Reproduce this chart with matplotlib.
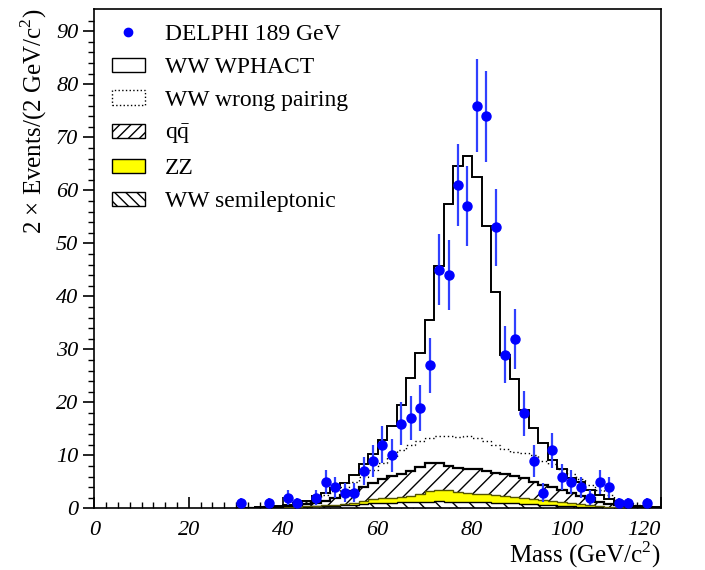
import numpy as np
import matplotlib
matplotlib.use("Agg")
import matplotlib.pyplot as plt
from matplotlib.patches import Patch
from matplotlib.lines import Line2D

plt.rcParams["font.family"] = ["Liberation Serif", "DejaVu Serif"]
plt.rcParams["mathtext.fontset"] = "custom"
plt.rcParams["mathtext.rm"] = "Liberation Serif"
plt.rcParams["hatch.linewidth"] = 1.0

# 2 GeV bins from 30 to 120
edges = np.arange(30, 122, 2)

# stacked tops of each simulated component
semilep = [0, 0, 0.05, 0.1, 0.15, 0.2, 0.25, 0.3, 0.4, 0.5, 0.55, 0.65, 0.75, 0.85, 0.95,
           1.0, 1.1, 1.15, 1.2, 1.25, 1.3, 1.35, 1.3, 1.3, 1.25, 1.2, 1.15, 1.1, 1.0, 0.95,
           0.85, 0.8, 0.7, 0.6, 0.5, 0.45, 0.35, 0.3, 0.2, 0.15, 0.1, 0.05, 0.05, 0, 0]
zz = [0, 0, 0.05, 0.1, 0.2, 0.25, 0.3, 0.4, 0.5, 0.6, 0.7, 0.8, 1.0, 1.4, 1.7,
      1.9, 2.0, 2.2, 2.4, 2.8, 3.3, 3.5, 3.4, 3.1, 3.0, 2.8, 2.7, 2.5, 2.4, 2.2,
      2.0, 1.8, 1.6, 1.5, 1.3, 1.1, 0.9, 0.7, 0.5, 0.35, 0.2, 0.1, 0.05, 0, 0]
qqbar = [0.05, 0.05, 0.1, 0.2, 0.3, 0.4, 0.6, 0.8, 1.1, 1.5, 2.0, 2.6, 3.3, 4.0, 4.8,
         5.5, 6.1, 6.6, 7.1, 7.8, 8.5, 8.6, 8.1, 7.7, 7.5, 7.4, 7.1, 6.7, 6.5, 6.1,
         5.7, 5.0, 4.4, 4.0, 3.5, 3.0, 2.4, 1.9, 1.3, 0.9, 0.6, 0.4, 0.3, 0.2, 0.1]
wrong_pair = [0.05, 0.1, 0.2, 0.3, 0.5, 0.7, 0.9, 1.2, 1.8, 2.5, 3.3, 4.0, 5.0, 6.0, 7.2,
              8.5, 9.8, 11.0, 12.0, 12.8, 13.3, 13.6, 13.7, 13.5, 13.6, 13.3, 12.8, 12.0, 11.3, 10.7,
              10.5, 10.0, 9.0, 8.3, 7.5, 6.5, 5.5, 4.5, 3.5, 2.5, 1.6, 1.0, 0.6, 0.3, 0.2]
wphact = [0.1, 0.1, 0.2, 0.3, 0.5, 0.7, 1.0, 1.5, 2.3, 3.0, 3.8, 4.8, 6.3, 8.3, 10.3,
          13.0, 15.5, 19.5, 24.6, 29.3, 35.5, 45.7, 57.4, 64.5, 66.4, 62.6, 53.2, 40.8, 28.9, 24.4,
          18.5, 15.2, 12.3, 9.1, 7.5, 5.8, 5.0, 3.5, 2.6, 1.7, 1.1, 0.7, 0.5, 0.3, 0.2]

# DELPHI data
data_x = [31, 37, 41, 43, 47, 49, 51, 53, 55, 57, 59, 61, 63, 65, 67, 69, 71, 73, 75, 77,
          79, 81, 83, 85, 87, 89, 91, 93, 95, 97, 99, 101, 103, 105, 107, 109, 111, 113, 117]
data_y = [1, 1, 2, 1, 2, 5, 4, 3, 3, 7, 9, 12, 10, 16, 17, 19, 27, 45, 44, 61,
          57, 76, 74, 53, 29, 32, 18, 9, 3, 11, 6, 5, 4, 2, 5, 4, 1, 1, 1]

fig = plt.figure(figsize=(7.05, 5.7), dpi=100)
ax = fig.add_axes([0.1338, 0.1079, 0.8038, 0.8763])

zeros = np.zeros(len(semilep))
ax.stairs(qqbar, edges, baseline=zz, fill=True, facecolor="white", edgecolor="black",
          hatch="//", linewidth=0, zorder=2)
ax.stairs(zz, edges, baseline=semilep, fill=True, facecolor="#ffff00", linewidth=0, zorder=2)
ax.stairs(semilep, edges, baseline=zeros, fill=True, facecolor="white", edgecolor="black",
          hatch="\\\\", linewidth=0, zorder=2)
ax.stairs(semilep, edges, color="black", linewidth=1.0, zorder=3)
ax.stairs(zz, edges, color="#555500", linewidth=1.0, zorder=3)
ax.stairs(qqbar, edges, color="black", linewidth=1.6, zorder=3)
ax.stairs(wrong_pair, edges, color="black", linewidth=1.0, linestyle=(0, (1, 2)), zorder=3)
ax.stairs(wphact, edges, color="black", linewidth=1.4, zorder=4)

ax.errorbar(data_x, data_y, yerr=np.sqrt(data_y), fmt="o", color="#0000ff", ecolor="#3040ff",
            elinewidth=1.6, markersize=6.5, capsize=0, zorder=5)

ax.set_xlim(0, 120)
ax.set_ylim(0, 94.2)
ax.set_xticks(np.arange(0, 121, 20))
ax.set_xticks(np.arange(0, 121, 2.5), minor=True)
ax.set_yticks(np.arange(0, 91, 10))
ax.set_yticks(np.arange(0, 94, 2), minor=True)
ax.tick_params(axis="x", which="both", direction="in", top=False)
ax.tick_params(axis="y", which="both", direction="out", right=False)
ax.tick_params(which="major", length=8, width=1.2, labelsize=16)
ax.tick_params(which="minor", length=4, width=1.0)
ax.tick_params(axis="x", pad=9)
for lab in ax.get_xticklabels() + ax.get_yticklabels():
    lab.set_fontstyle("italic")
ax.get_xticklabels()[-1].set_horizontalalignment("right")
for s in ax.spines.values():
    s.set_linewidth(1.2)

ax.set_xlabel("Mass (GeV/c$^2$)", fontsize=18, loc="right")
ax.xaxis.set_label_coords(1.0, -0.062)
ax.set_ylabel("2 × Events/(2 GeV/c$^2$)", fontsize=18, loc="top", labelpad=5)

handles = [
    Line2D([], [], marker="o", color="#0000ff", linestyle="none", markersize=6),
    Patch(facecolor="white", edgecolor="black", linewidth=1.0),
    Patch(facecolor="white", edgecolor="black", linewidth=1.0, linestyle=":"),
    Patch(facecolor="white", edgecolor="black", linewidth=1.0, hatch="///"),
    Patch(facecolor="#ffff00", edgecolor="black", linewidth=1.0),
    Patch(facecolor="white", edgecolor="black", linewidth=1.0, hatch="\\\\\\"),
]
labels = ["DELPHI 189 GeV", "WW WPHACT", "WW wrong pairing", r"q$\bar{\rm q}$", "ZZ",
          "WW semileptonic"]
ax.legend(handles, labels, loc="upper left", bbox_to_anchor=(0.006, 0.998), frameon=False,
          fontsize=17, handlelength=1.4, handleheight=0.55, handletextpad=0.85,
          labelspacing=0.5, borderaxespad=0.2)

fig.savefig("out.png", dpi=100)
